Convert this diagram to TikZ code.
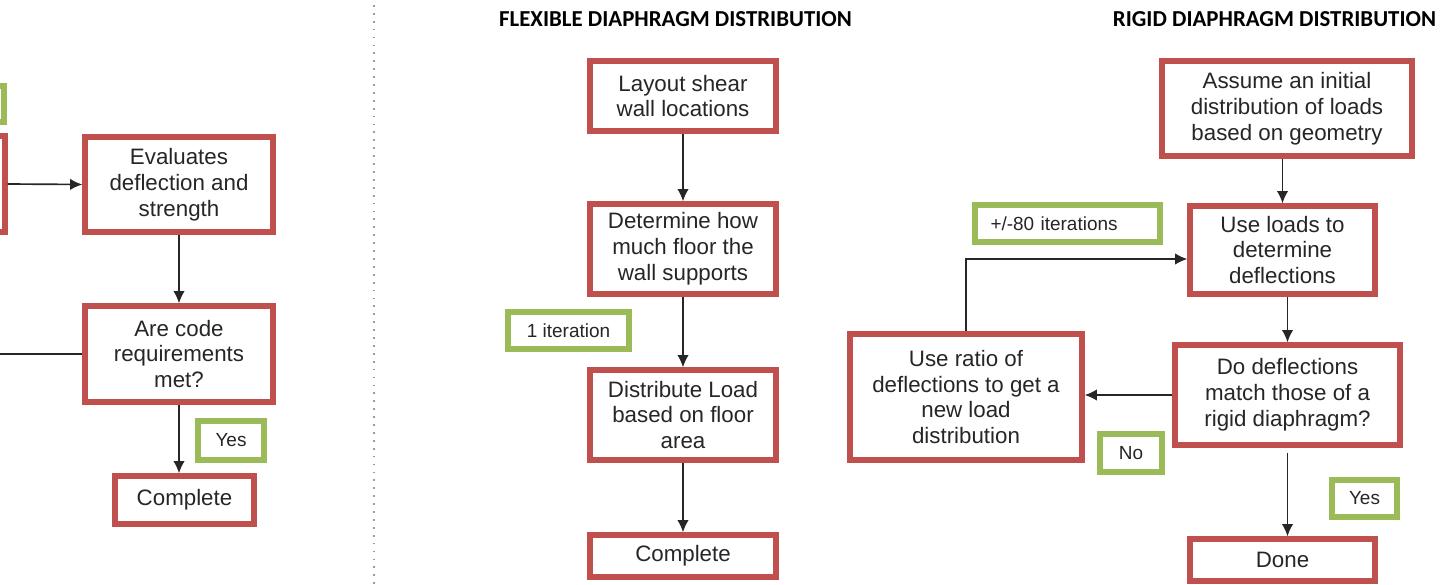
\documentclass[tikz,border=0pt]{standalone}
\usepackage{fontspec}
\setmainfont{Liberation Sans}
\newfontfamily\headfont{Carlito}
\usetikzlibrary{arrows.meta}
\definecolor{boxred}{HTML}{C0504D}
\definecolor{taggreen}{HTML}{9BBB59}
\definecolor{ink}{HTML}{262626}
\definecolor{dots}{HTML}{9A9A9A}

\begin{document}
\begin{tikzpicture}[>={Latex[length=7pt,width=6.5pt]},
    stepbox/.style={draw=boxred,line width=3pt,fill=white,inner sep=0pt,align=center,text=ink,font=\fontsize{12.7}{14.7}\selectfont},
    tagbox/.style={draw=taggreen,line width=3pt,fill=white,inner sep=0pt,align=center,text=ink,font=\fontsize{10.8}{13}\selectfont},
    flow/.style={->,line width=0.95pt,ink},
    heading/.style={font=\headfont\bfseries\fontsize{13}{15}\selectfont,text=black}]
        \useasboundingbox (0,0) rectangle (28.98,11.68);
        \clip (0,0) rectangle (28.98,11.68);
        % left column, cut off at the edge
        \node[tagbox,minimum width=2.48cm,minimum height=0.72cm] (tagcut) at (-1.16,9.60) {};
        \node[stepbox,minimum width=3.92cm,minimum height=1.92cm] (stepcut) at (-1.86,8.00) {};
        \node[stepbox,minimum width=3.76cm,minimum height=1.90cm] (eval) at (3.58,7.99) {Evaluates\\deflection and\\strength};
        \node[stepbox,minimum width=3.76cm,minimum height=1.92cm] (code) at (3.58,4.60) {Are code\\requirements\\met?};
        \node[tagbox,minimum width=1.32cm,minimum height=0.78cm] (yesleft) at (4.62,2.87) {Yes};
        \node[stepbox,minimum width=2.78cm,minimum height=0.96cm] (doneleft) at (3.69,1.68) {Complete};
        \coordinate (offleft) at (0,4.60);
        \draw[flow] (stepcut.east) -- (eval.west);
        \draw[flow] (eval.south) -- (code.north);
        \draw[flow] (code.south) -- (code.south |- doneleft.north);
        \draw[line width=0.95pt,ink] (code.west) -- (offleft);
        % divider
        \draw[dots,line width=1pt,dash pattern=on 1pt off 3.5pt] (7.48,0) -- (7.48,11.68);
        % flexible diaphragm
        \node[heading] (flextitle) at (13.51,11.30) {FLEXIBLE DIAPHRAGM DISTRIBUTION};
        \node[stepbox,minimum width=3.72cm,minimum height=1.40cm] (layout) at (13.66,9.76) {Layout shear\\wall locations};
        \node[stepbox,minimum width=3.72cm,minimum height=1.80cm] (floor) at (13.66,6.70) {Determine how\\much floor the\\wall supports};
        \node[tagbox,minimum width=2.42cm,minimum height=0.74cm] (once) at (11.37,5.07) {1 iteration};
        \node[stepbox,minimum width=3.72cm,minimum height=1.80cm] (spread) at (13.66,3.38) {Distribute Load\\based on floor\\area};
        \node[stepbox,minimum width=3.72cm,minimum height=0.84cm] (flexdone) at (13.66,0.56) {Complete};
        \draw[flow] (layout) -- (floor);
        \draw[flow] (floor) -- (spread);
        \draw[flow] (spread) -- (flexdone);
        % rigid diaphragm
        \node[heading] (rigidtitle) at (25.49,11.30) {RIGID DIAPHRAGM DISTRIBUTION};
        \node[stepbox,minimum width=5.00cm,minimum height=1.90cm] (assume) at (25.74,9.51) {Assume an initial\\distribution of loads\\based on geometry};
        \node[stepbox,minimum width=3.70cm,minimum height=1.76cm] (useloads) at (25.65,6.68) {Use loads to\\determine\\deflections};
        \node[tagbox,minimum height=0.74cm,text width=3.08cm,align=left,inner xsep=0.31cm] (many) at (21.35,7.21) {+/-80 iterations};
        \node[stepbox,minimum width=4.50cm,minimum height=2.00cm] (match) at (25.75,3.78) {Do deflections\\match those of a\\rigid diaphragm?};
        \node[stepbox,minimum width=4.64cm,minimum height=2.52cm] (ratio) at (19.32,3.74) {Use ratio of\\deflections to get a\\new load\\distribution};
        \node[tagbox,minimum width=1.24cm,minimum height=0.76cm] (no) at (22.62,2.62) {No};
        \node[tagbox,minimum width=1.30cm,minimum height=0.74cm] (yesright) at (27.29,1.71) {Yes};
        \node[stepbox,minimum width=3.70cm,minimum height=0.84cm] (done) at (25.65,0.48) {Done};
        \draw[flow] (useloads.north |- assume.south) -- (useloads.north);
        \draw[flow] (match.north |- useloads.south) -- (match.north);
        \draw[flow] (match.west) -- (match.west -| ratio.east);
        \draw[flow] (ratio.north) |- ([yshift=-0.18cm]useloads.west);
        \draw[flow] ([yshift=-0.1cm]match.south) -- (match.south |- done.north);
      \end{tikzpicture}
\end{document}
